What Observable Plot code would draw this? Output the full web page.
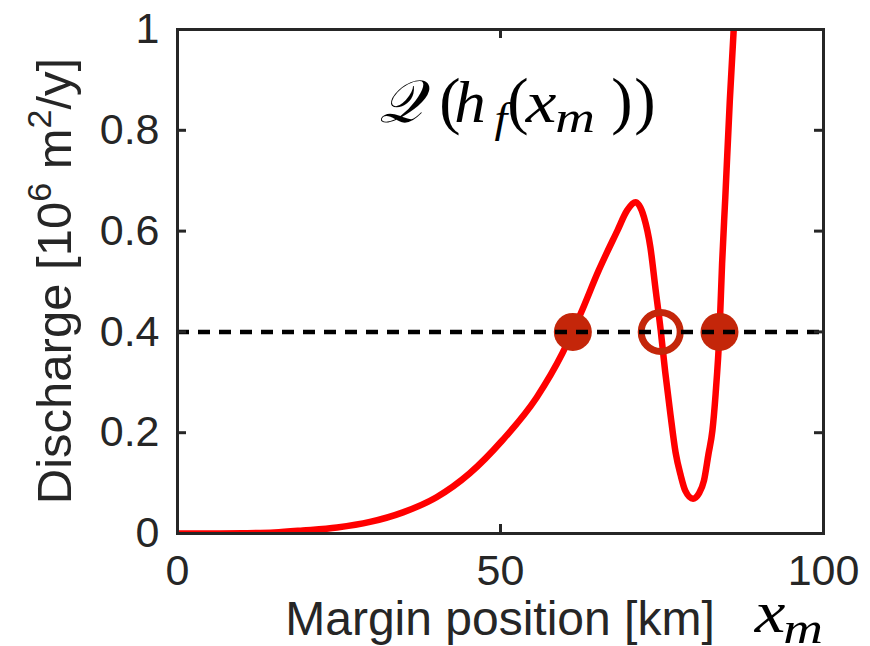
<!DOCTYPE html>
<html><head><meta charset="utf-8">
<script src="https://cdn.jsdelivr.net/npm/d3@7"></script>
<script src="https://cdn.jsdelivr.net/npm/@observablehq/plot@0.6"></script>
<style>body{margin:0;background:#fff} svg{display:block}</style>
</head><body><div id="chart"></div>
<script>
// Margin position [km]
const xm = [0, 5, 10, 15, 19.4, 24.7, 29.8, 34.9, 40.1, 45.2, 50.3, 55.6, 59.6, 62.4, 65.2, 68.1, 69.6, 70.9, 72.2, 73.2, 74.0, 74.8, 75.5, 76.3, 77.1, 77.9, 78.6, 79.8, 80.7, 81.5, 82.2, 82.8, 83.3, 83.9, 84.3, 84.8, 85.5, 86.1];
// Discharge [10^6 m^2/y]
const discharge = [0, 0, 0.0005, 0.002, 0.006, 0.012, 0.023, 0.042, 0.072, 0.119, 0.185, 0.270, 0.358, 0.436, 0.522, 0.601, 0.641, 0.657, 0.628, 0.568, 0.485, 0.403, 0.320, 0.237, 0.161, 0.115, 0.085, 0.069, 0.079, 0.105, 0.158, 0.204, 0.277, 0.400, 0.535, 0.667, 0.860, 1.0];
const targetFlux = 0.4;
const stableRoots = [61.2, 83.9];
const unstableRoots = [74.8];
const xTicks = [0, 50, 100];
const xTickLabels = ["0", "50", "100"];
const yTicks = [0, 0.2, 0.4, 0.6, 0.8, 1];
const yTickLabels = ["0", "0.2", "0.4", "0.6", "0.8", "1"];

const curve = xm.map((x, i) => ({x, q: discharge[i]}));
const W = 870, H = 646, mL = 177, mR = 47, mT = 29, mB = 113;
const plotW = W - mL - mR, plotH = H - mT - mB;
const ink = "#262626", mark = "#c4260a";
const tl = 9;

const plot = Plot.plot({
  width: W, height: H,
  marginLeft: mL, marginRight: mR, marginTop: mT, marginBottom: mB,
  style: {fontFamily: "'Liberation Sans', Arial, Helvetica, sans-serif", background: "#fff", color: ink},
  x: {domain: [0, 100]},
  y: {domain: [0, 1]},
  marks: [
    Plot.line(curve, {x: "x", y: "q", stroke: "#ff0000", strokeWidth: 6.5, curve: "monotone-x", clip: true}),
    Plot.dot(stableRoots, {x: d => d, y: () => targetFlux, r: 19, fill: mark, stroke: "none"}),
    Plot.dot(unstableRoots, {x: d => d, y: () => targetFlux, r: 19.5, fill: "none", stroke: mark, strokeWidth: 7}),
    Plot.ruleY([targetFlux], {stroke: "#000", strokeWidth: 4.5, strokeDasharray: "12,9"}),
    Plot.tickX(xTicks, {x: d => d, stroke: ink, strokeWidth: 3, insetTop: plotH - tl}),
    Plot.tickX(xTicks, {x: d => d, stroke: ink, strokeWidth: 3, insetBottom: plotH - tl}),
    Plot.tickY(yTicks, {y: d => d, stroke: ink, strokeWidth: 3, insetRight: plotW - tl}),
    Plot.tickY(yTicks, {y: d => d, stroke: ink, strokeWidth: 3, insetLeft: plotW - tl}),
    Plot.frame({stroke: ink, strokeWidth: 3}),
    Plot.axisX(xTicks, {tickSize: 0, tickPadding: 21, fontSize: 43, label: null,
      tickFormat: d => xTickLabels[xTicks.indexOf(d)]}),
    Plot.axisY(yTicks, {tickSize: 0, tickPadding: 18, fontSize: 43, label: null,
      tickFormat: d => yTickLabels[yTicks.indexOf(d)]})
  ]
});
document.getElementById("chart").appendChild(plot);

const svg = d3.select(plot);
const sans = "'Liberation Sans', Arial, Helvetica, sans-serif";
const serif = "'Liberation Serif', 'Times New Roman', serif";

function piece(txt, x, y, size, italic, sx) {
  svg.append("text")
    .attr("transform", `translate(${x},${y}) scale(${sx || 1},1)`)
    .attr("font-family", serif).attr("font-size", size)
    .attr("font-style", italic ? "italic" : "normal").attr("fill", "#000")
    .text(txt);
}

// x label
svg.append("text")
  .attr("x", mL + plotW / 2).attr("y", 635)
  .attr("text-anchor", "middle").attr("font-family", sans).attr("font-size", 48).attr("fill", ink)
  .text("Margin position [km]");
// x_m
piece("x", 770, 632, 60, true, 1.15);
piece("m", 803, 643, 44, true, 1.25);

// y label
const yl = svg.append("text")
  .attr("transform", `translate(71,${mT + plotH / 2}) rotate(-90)`)
  .attr("text-anchor", "middle").attr("font-family", sans).attr("font-size", 49).attr("fill", ink);
yl.append("tspan").text("Discharge [10");
yl.append("tspan").attr("font-size", 34).attr("dy", -20).text("6");
yl.append("tspan").attr("dy", 20).text(" m");
yl.append("tspan").attr("font-size", 34).attr("dy", -20).text("2");
yl.append("tspan").attr("dy", 20).text("/y]");

// annotation Q(h_f(x_m))
const base = 122;
piece("𝒬", 400, base, 60, true, 1);
piece("(", 450, base, 64, false, 1);
piece("h", 470, base, 60, true, 1.05);
piece("f", 501, base + 10, 42, true, 1.1);
piece("(", 518, base, 64, false, 1);
piece("x", 541, base, 60, true, 1.15);
piece("m", 575, base + 10, 44, true, 1.25);
piece(")", 622, base, 64, false, 1);
piece(")", 645, base, 64, false, 1);
</script>
</body></html>
